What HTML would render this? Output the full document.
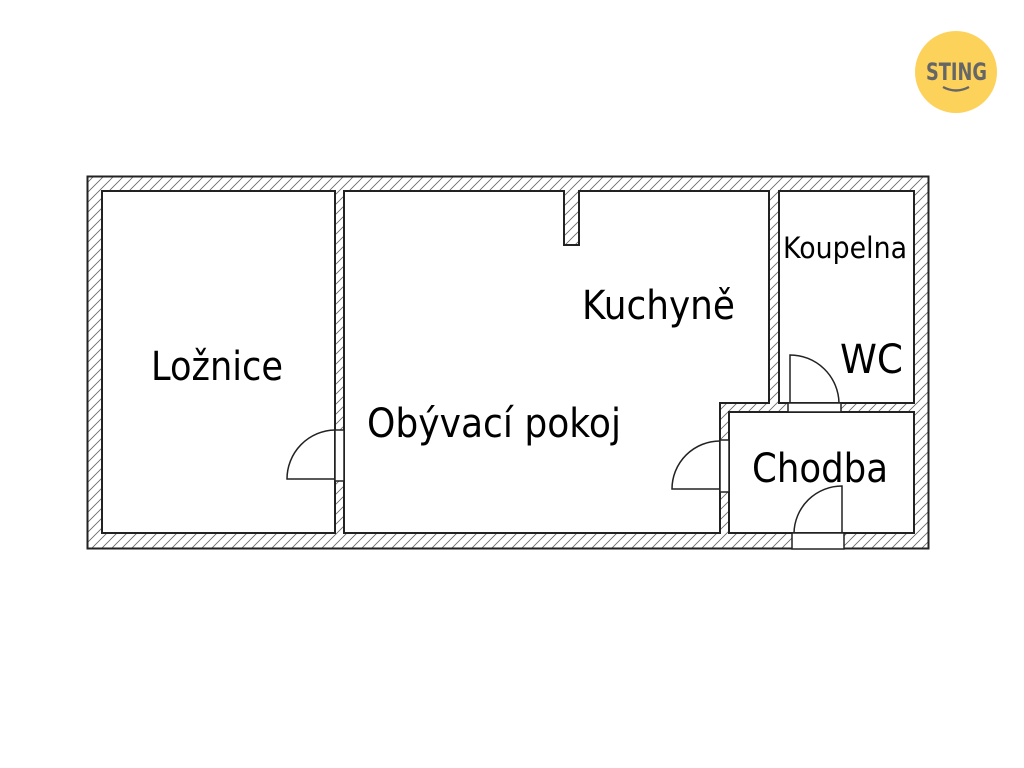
<!DOCTYPE html>
<html><head><meta charset="utf-8"><style>
html,body{margin:0;padding:0;background:#fff;width:1024px;height:768px;overflow:hidden}
svg{display:block}
text{font-family:"DejaVu Sans","Liberation Sans",sans-serif;fill:#000}
</style></head><body>
<svg width="1024" height="768" viewBox="0 0 1024 768">
<defs>
<pattern id="h" patternUnits="userSpaceOnUse" width="10" height="10">
<rect width="10" height="10" fill="#fff"/>
<path d="M-2,12 L12,-2 M-2,2 L2,-2 M8,12 L12,8" stroke="#666" stroke-width="0.8"/>
</pattern>
</defs>
<!-- watermark -->
<text x="400" y="390" font-size="80" font-weight="bold" style="fill:#f1f1f1" textLength="225" lengthAdjust="spacingAndGlyphs">STING</text>
<!-- outer walls -->
<rect x="87.5" y="176.5" width="841" height="372" fill="url(#h)" stroke="#222" stroke-width="2"/>
<g fill="#fff" stroke="#222" stroke-width="2">
<rect x="102" y="191" width="233" height="342"/>
<path d="M344,191 H564 V245 H579 V191 H769 V403 H720 V533 H344 Z"/>
<rect x="779" y="191" width="135" height="212"/>
<rect x="729" y="412" width="185" height="121"/>
</g>
<!-- door openings -->
<g fill="#fff" stroke="#222" stroke-width="1.5">
<rect x="335" y="430" width="9" height="51"/>
<rect x="720" y="440" width="9" height="52"/>
<rect x="788" y="403" width="53" height="9"/>
<rect x="792" y="533" width="52" height="16"/>
</g>
<!-- door leaves -->
<g fill="none" stroke="#222" stroke-width="1.5">
<path d="M335,430 A49,49 0 0 0 287,479 H335"/>
<path d="M720,441 A48,48 0 0 0 672,489 H720"/>
<path d="M790,403 V355 A49,49 0 0 1 839,403"/>
<path d="M842,533 V486 A48,48 0 0 0 794,533"/>
</g>
<!-- labels -->
<text x="151" y="380" font-size="40" textLength="132" lengthAdjust="spacingAndGlyphs">Ložnice</text>
<text x="582" y="319" font-size="40" textLength="153" lengthAdjust="spacingAndGlyphs">Kuchyně</text>
<text x="367" y="437" font-size="40" textLength="254" lengthAdjust="spacingAndGlyphs">Obývací pokoj</text>
<text x="783" y="258" font-size="29" textLength="124" lengthAdjust="spacingAndGlyphs">Koupelna</text>
<text x="840" y="373" font-size="40" textLength="63" lengthAdjust="spacingAndGlyphs">WC</text>
<text x="752" y="482" font-size="40" textLength="136" lengthAdjust="spacingAndGlyphs">Chodba</text>
<!-- logo -->
<circle cx="956" cy="72" r="41" fill="#fcd25a"/>
<text x="926" y="80" font-size="24" font-weight="bold" style="fill:#666" textLength="61" lengthAdjust="spacingAndGlyphs">STING</text>
<path d="M943,87 Q956,94 969,87" fill="none" stroke="#666" stroke-width="2.4"/>
</svg>
</body></html>
